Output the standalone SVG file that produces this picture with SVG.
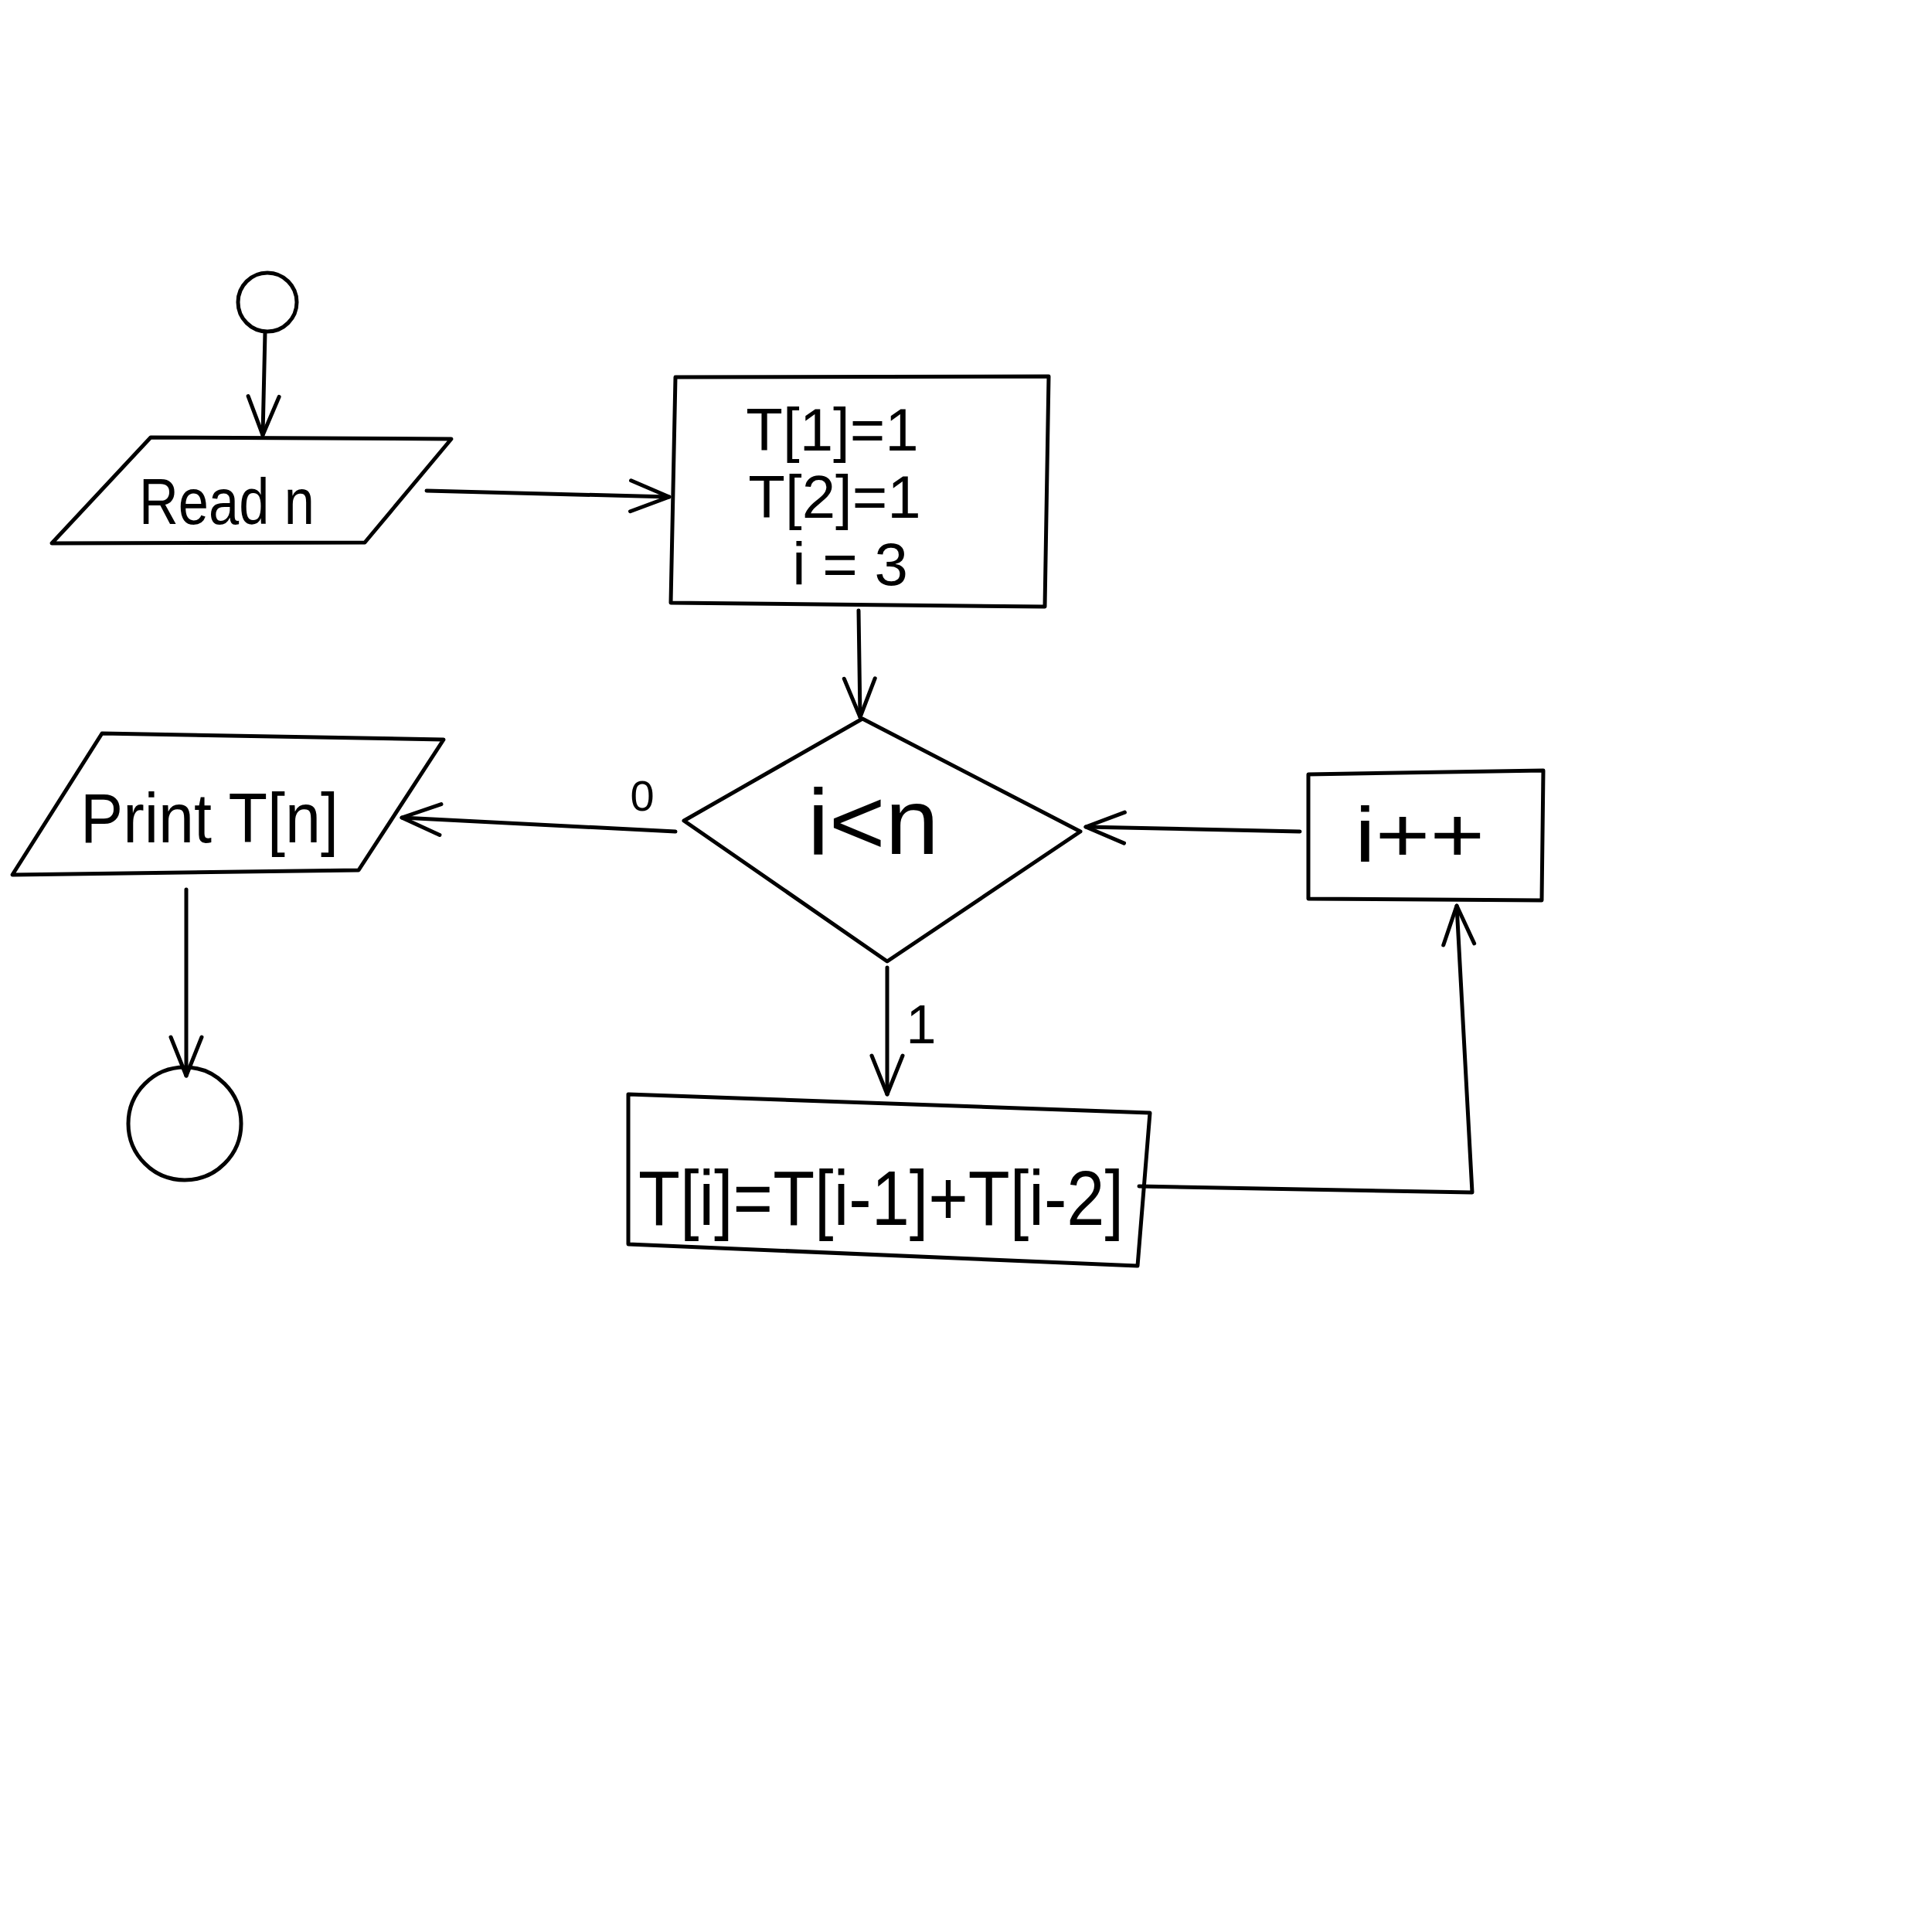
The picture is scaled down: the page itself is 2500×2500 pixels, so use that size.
<svg xmlns="http://www.w3.org/2000/svg" width="2500" height="2500" viewBox="0 0 2500 2500">
<style>
.shape{fill:none;stroke:#000;stroke-width:5;stroke-linejoin:round;stroke-linecap:round}
.edge{fill:none;stroke:#000;stroke-width:5;stroke-linecap:round;stroke-linejoin:round}
.lbl{font-family:"Liberation Sans","DejaVu Sans",sans-serif;fill:#000}
</style>
<defs>
<marker id="arr" markerUnits="userSpaceOnUse" viewBox="0 0 60 50" refX="55" refY="25" markerWidth="60" markerHeight="50" orient="auto">
<path d="M5,5 L55,25 L5,45" fill="none" stroke="#000" stroke-width="5" stroke-linecap="round" stroke-linejoin="round"/>
</marker>
</defs>
<rect width="2500" height="2500" fill="#fff"/>
<g id="connectors">
<line class="edge" x1="343" y1="430" x2="340" y2="563" marker-end="url(#arr)"/>
<line class="edge" x1="552" y1="635" x2="866" y2="643" marker-end="url(#arr)"/>
<line class="edge" x1="1111" y1="790" x2="1113" y2="928" marker-end="url(#arr)"/>
<line class="edge" x1="874" y1="1076" x2="520" y2="1058" marker-end="url(#arr)"/>
<line class="edge" x1="241" y1="1151" x2="241" y2="1392" marker-end="url(#arr)"/>
<line class="edge" x1="1148" y1="1252" x2="1148" y2="1416" marker-end="url(#arr)"/>
<polyline class="edge" points="1474,1535 1905,1543 1885,1172" marker-end="url(#arr)"/>
<line class="edge" x1="1682" y1="1076" x2="1405" y2="1070" marker-end="url(#arr)"/>
<text class="lbl" x="831" y="1049" font-size="56" text-anchor="middle">0</text>
<text class="lbl" x="1192" y="1350" font-size="70" text-anchor="middle">1</text>
</g>
<g id="start">
<circle class="shape" cx="346" cy="391" r="38"/>
</g>
<g id="read">
<polygon class="shape" points="195,566 584,568 472,702 67,703"/>
<text class="lbl" x="180" y="678" font-size="84" textLength="227" lengthAdjust="spacingAndGlyphs">Read n</text>
</g>
<g id="init">
<polygon class="shape" points="874,488 1357,487 1352,785 868,780"/>
<text class="lbl" x="1077" y="583" font-size="78" text-anchor="middle">T[1]=1</text>
<text class="lbl" x="1080" y="670" font-size="78" text-anchor="middle">T[2]=1</text>
<text class="lbl" x="1100" y="757" font-size="78" text-anchor="middle">i = 3</text>
</g>
<g id="decision">
<polygon class="shape" points="1116,930 1398,1076 1148,1244 885,1062"/>
<text class="lbl" x="1130" y="1105" font-size="120" text-anchor="middle" textLength="170" lengthAdjust="spacingAndGlyphs">i&lt;n</text>
</g>
<g id="print">
<polygon class="shape" points="132,949 574,957 464,1126 16,1132"/>
<text class="lbl" x="104" y="1090" font-size="90" textLength="334" lengthAdjust="spacingAndGlyphs">Print T[n]</text>
</g>
<g id="end">
<circle class="shape" cx="239" cy="1454" r="73"/>
</g>
<g id="compute">
<polygon class="shape" points="813,1416 1488,1440 1472,1638 813,1610"/>
<text class="lbl" x="826" y="1585" font-size="100" textLength="628" lengthAdjust="spacingAndGlyphs">T[i]=T[i-1]+T[i-2]</text>
</g>
<g id="incr">
<polygon class="shape" points="1693,1002 1997,997 1995,1165 1693,1163"/>
<text class="lbl" x="1753" y="1115" font-size="100" textLength="168" lengthAdjust="spacingAndGlyphs">i++</text>
</g>
</svg>
